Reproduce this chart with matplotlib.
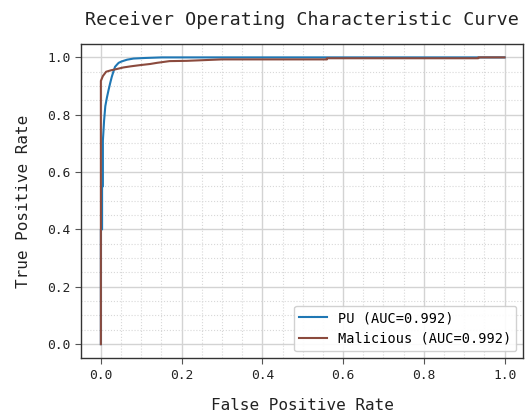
import matplotlib
matplotlib.use("Agg")
import matplotlib.pyplot as plt
from matplotlib.ticker import MultipleLocator

plt.rcParams['font.family'] = ['DejaVu Sans Mono']

# PU curve
pu_fpr = [0.0, 0.0, 0.003, 0.003, 0.005, 0.005, 0.008, 0.011, 0.015, 0.019, 0.023,
          0.027, 0.031, 0.035, 0.040, 0.044, 0.050, 0.056, 0.065, 0.073, 0.081,
          0.110, 0.151, 0.40, 0.70, 1.0]
pu_tpr = [0.0, 0.40, 0.40, 0.55, 0.55, 0.71, 0.78, 0.83, 0.86, 0.886, 0.91,
          0.932, 0.95, 0.967, 0.975, 0.981, 0.985, 0.988, 0.992, 0.994, 0.996,
          0.998, 1.0, 1.0, 1.0, 1.0]

# Malicious curve
mal_fpr = [0.0, 0.0, 0.005, 0.013, 0.025, 0.035, 0.056, 0.075, 0.097, 0.122,
           0.139, 0.17, 0.213, 0.30, 0.56, 0.56, 0.935, 0.935, 1.0]
mal_tpr = [0.0, 0.918, 0.935, 0.95, 0.955, 0.958, 0.965, 0.969, 0.973, 0.977,
           0.981, 0.987, 0.988, 0.993, 0.993, 0.997, 0.997, 1.0, 1.0]

labels = ['PU (AUC=0.992)', 'Malicious (AUC=0.992)']

fig = plt.figure(figsize=(5.3, 4.17), dpi=100)
ax = fig.add_axes([0.153, 0.141, 0.834, 0.753])

ax.plot(pu_fpr, pu_tpr, color='#1f77b4', lw=1.5, label=labels[0])
ax.plot(mal_fpr, mal_tpr, color='#8b4a3d', lw=1.5, label=labels[1])

ax.set_xlim(-0.049, 1.046)
ax.set_ylim(-0.049, 1.046)
ax.xaxis.set_major_locator(MultipleLocator(0.2))
ax.yaxis.set_major_locator(MultipleLocator(0.2))
ax.xaxis.set_minor_locator(MultipleLocator(0.05))
ax.yaxis.set_minor_locator(MultipleLocator(0.05))
ax.grid(which='major', color='#d3d3d3', lw=1.0)
ax.grid(which='minor', color='#d8d8d8', lw=0.8, ls=':')
ax.set_axisbelow(True)
ax.tick_params(which='major', direction='out', length=4, color='#555555',
               labelsize=9.3, labelcolor='#222222')
ax.tick_params(which='minor', length=0)
for s in ax.spines.values():
    s.set_color('#333333')
    s.set_linewidth(1.0)

ax.set_title('Receiver Operating Characteristic Curve', fontsize=13.2, pad=14, color='#222222')
ax.set_xlabel('False Positive Rate', fontsize=11.5, labelpad=12, color='#222222')
ax.set_ylabel('True Positive Rate', fontsize=11.5, labelpad=12, color='#222222')

leg = ax.legend(loc='lower right', fontsize=9.8, frameon=True, fancybox=True,
                edgecolor='#cccccc', framealpha=0.9)

fig.savefig('out.png', dpi=100)
